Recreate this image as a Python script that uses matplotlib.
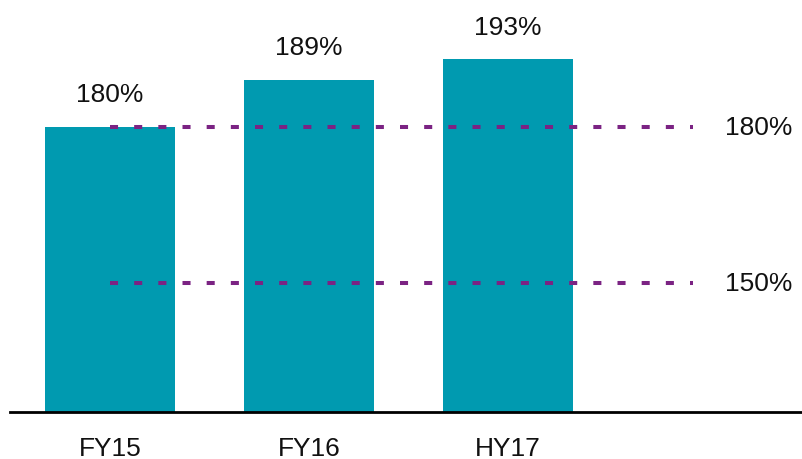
import matplotlib.pyplot as plt

plt.rcParams['font.family'] = ['Liberation Sans', 'DejaVu Sans']

categories = ['FY15', 'FY16', 'HY17']
values = [180, 189, 193]
ref_levels = [180, 150]
ref_labels = ['180%', '150%']

bar_color = '#009AB0'
line_color = '#7B2383'

fig = plt.figure(figsize=(8.02, 4.60), dpi=100)
# axes spans from px 10 to 802 horizontally, baseline at px 413
ax = fig.add_axes([10 / 802, (460 - 413) / 460, 792 / 802, 413 / 460])

x = list(range(len(categories)))
ax.bar(x, values, width=0.653, color=bar_color)
ax.set_ylim(125.2, 204.6)
ax.set_xlim(-0.5025, 3.477)

for xi, v in zip(x, values):
    ax.annotate(f'{v}%', (xi, v), xytext=(0, 15), textcoords='offset points',
                ha='center', va='bottom', fontsize=19, color='#111111')

for lvl, lab in zip(ref_levels, ref_labels):
    ax.plot([0, 2.93], [lvl, lvl], color=line_color, lw=2.9,
            linestyle=(0, (2, 4)), dash_capstyle='butt')
    ax.text(3.26, lvl, lab, ha='center', va='center', fontsize=19, color='#111111')

ax.set_xticks(x)
ax.set_xticklabels(categories, fontsize=19, color='#111111')
ax.tick_params(axis='x', length=0, pad=17)
ax.set_yticks([])
for s in ['top', 'right', 'left']:
    ax.spines[s].set_visible(False)
ax.spines['bottom'].set_linewidth(2)
ax.spines['bottom'].set_color('black')

fig.savefig('out.png', dpi=100)
